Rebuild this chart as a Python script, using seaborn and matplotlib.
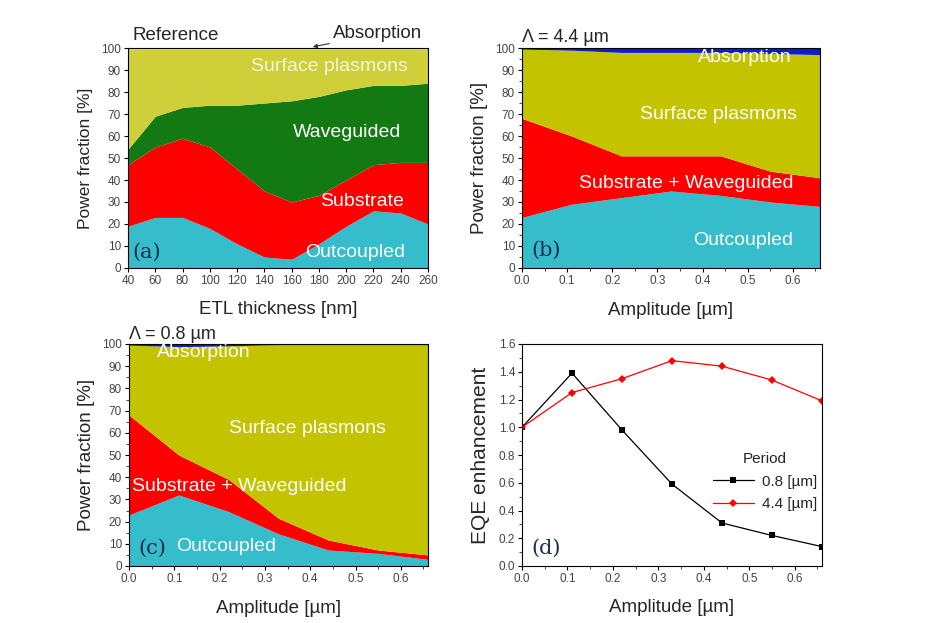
import numpy as np
import matplotlib
matplotlib.use("Agg")
import matplotlib.pyplot as plt
import seaborn as sns
import pandas as pd
from matplotlib.ticker import MultipleLocator, AutoMinorLocator

# ---------------- data ----------------
# panel (a): reference, vs ETL thickness
etl_nm = [40, 60, 80, 100, 120, 140, 160, 180, 200, 220, 240, 260]
a_outcoupled = [19, 23, 23, 18, 11, 5, 4, 11, 19, 26, 25, 20]
a_substrate = [28, 32, 36, 37, 34, 30, 26, 22, 21, 21, 23, 28]
a_waveguided = [7, 14, 14, 19, 29, 40, 46, 45, 41, 36, 35, 36]
a_plasmons = [45.6, 30.6, 26.6, 25.6, 25.6, 24.6, 23.6, 21.6, 18.6, 16.6, 16.6, 15.6]
a_absorption = [0.4, 0.4, 0.4, 0.4, 0.4, 0.4, 0.4, 0.4, 0.4, 0.4, 0.4, 0.4]

# amplitudes for (b), (c), (d)
amplitude_um = [0.0, 0.11, 0.22, 0.33, 0.44, 0.55, 0.66]

# panel (b): period 4.4 um
b_outcoupled = [23, 29, 32, 35, 33, 30, 28]
b_subwave = [45, 31, 19, 16, 18, 14, 13]
b_plasmons = [31.5, 39, 47, 47, 47, 53.5, 56]
b_absorption = [0.5, 1.0, 2.0, 2.0, 2.0, 2.5, 3.0]

# panel (c): period 0.8 um
c_outcoupled = [23, 32, 24.5, 14.5, 7.2, 5.7, 3]
c_subwave = [45, 18, 14.5, 7, 4.5, 1.5, 2]
c_plasmons = [31.5, 48.8, 60.2, 78.2, 88, 92.5, 94.7]
c_absorption = [0.5, 1.2, 0.8, 0.3, 0.3, 0.3, 0.3]

# panel (d): EQE enhancement
eqe_08 = [1.0, 1.39, 0.98, 0.59, 0.31, 0.22, 0.14]
eqe_44 = [1.0, 1.25, 1.35, 1.48, 1.44, 1.34, 1.19]
period_labels = ["0.8 [\u00b5m]", "4.4 [\u00b5m]"]

# ---------------- style ----------------
sns.set_theme(style="ticks")
plt.rcParams["font.family"] = ["Liberation Sans", "DejaVu Sans"]

C_OUT = "#35BDCB"
C_SUB = "#FF0000"
C_WG = "#137A13"
C_SP_A = "#CFCF3A"
C_SP = "#C3C300"
C_ABS = "#0A1ECC"

fig = plt.figure(figsize=(9.38, 6.23), dpi=100)
W, H = 938, 623

def add_ax(l, t, r, b):
    return fig.add_axes([l / W, 1 - b / H, (r - l) / W, (b - t) / H])

ax_a = add_ax(128, 48, 428, 268)
ax_b = add_ax(522, 48, 820, 268)
ax_c = add_ax(129, 344, 428, 566)
ax_d = add_ax(522, 344, 822, 566)

def style_axes(ax):
    for s in ax.spines.values():
        s.set_linewidth(0.8)
        s.set_color("black")
    ax.tick_params(axis="both", which="major", direction="out", length=3, width=0.8,
                   labelsize=8.5, colors="black", labelcolor="#444444", pad=2)
    ax.tick_params(axis="both", which="minor", direction="out", length=2, width=0.6)

REG = 14
label_kw = dict(color="white", fontsize=REG, ha="center", va="center")
XL = 13.5
YL = 13.5
panel_kw = dict(fontsize=15, family="DejaVu Serif", color="#1F2F4F", ha="left", va="center")

# panel (a)
ax_a.stackplot(etl_nm, a_outcoupled, a_substrate, a_waveguided, a_plasmons, a_absorption,
               colors=[C_OUT, C_SUB, C_WG, C_SP_A, C_ABS], linewidth=0)
ax_a.set_xlim(40, 260)
ax_a.set_ylim(0, 100)
ax_a.xaxis.set_major_locator(MultipleLocator(20))
ax_a.yaxis.set_major_locator(MultipleLocator(10))
ax_a.set_xlabel("ETL thickness [nm]", fontsize=XL, labelpad=10)
ax_a.set_ylabel("Power fraction [%]", fontsize=12.5, labelpad=6)
style_axes(ax_a)
ax_a.text(0.015, 1.055, "Reference", transform=ax_a.transAxes, fontsize=13.5, ha="left", va="center")
ax_a.annotate("Absorption", xy=(175.5, 100.5), xytext=(190, 106.5), textcoords="data",
              fontsize=13.5, ha="left", va="center", annotation_clip=False,
              arrowprops=dict(arrowstyle="-|>", color="#333333", lw=0.8, shrinkA=0, shrinkB=0,
                              mutation_scale=6))
ax_a.text(188, 91.4, "Surface plasmons", color="#F4F4D8", fontsize=REG, ha="center", va="center")
ax_a.text(201, 61.4, "Waveguided", **label_kw)
ax_a.text(211.5, 30, "Substrate", **label_kw)
ax_a.text(206.5, 7, "Outcoupled", **label_kw)
ax_a.text(0.015, 0.07, "(a)", transform=ax_a.transAxes, **panel_kw)

# panel (b)
ax_b.stackplot(amplitude_um, b_outcoupled, b_subwave, b_plasmons, b_absorption,
               colors=[C_OUT, C_SUB, C_SP, C_ABS], linewidth=0)
ax_b.set_xlim(0, 0.66)
ax_b.set_ylim(0, 100)
ax_b.xaxis.set_major_locator(MultipleLocator(0.1))
ax_b.xaxis.set_minor_locator(AutoMinorLocator(2))
ax_b.yaxis.set_major_locator(MultipleLocator(10))
ax_b.yaxis.set_minor_locator(AutoMinorLocator(2))
ax_b.set_xlabel("Amplitude [\u00b5m]", fontsize=XL, labelpad=11)
ax_b.set_ylabel("Power fraction [%]", fontsize=YL, labelpad=5)
style_axes(ax_b)
ax_b.text(0.0, 1.05, "\u039b = 4.4 \u00b5m", transform=ax_b.transAxes, fontsize=13, ha="left", va="center")
ax_b.text(0.494, 95.9, "Absorption", **label_kw)
ax_b.text(0.434, 70, "Surface plasmons", **label_kw)
ax_b.text(0.363, 38.6, "Substrate + Waveguided", **label_kw)
ax_b.text(0.49, 12.7, "Outcoupled", **label_kw)
ax_b.text(0.03, 0.08, "(b)", transform=ax_b.transAxes, **panel_kw)

# panel (c)
ax_c.stackplot(amplitude_um, c_outcoupled, c_subwave, c_plasmons, c_absorption,
               colors=[C_OUT, C_SUB, C_SP, C_ABS], linewidth=0)
ax_c.set_xlim(0, 0.66)
ax_c.set_ylim(0, 100)
ax_c.xaxis.set_major_locator(MultipleLocator(0.1))
ax_c.xaxis.set_minor_locator(AutoMinorLocator(2))
ax_c.yaxis.set_major_locator(MultipleLocator(10))
ax_c.yaxis.set_minor_locator(AutoMinorLocator(2))
ax_c.set_xlabel("Amplitude [\u00b5m]", fontsize=XL, labelpad=11)
ax_c.set_ylabel("Power fraction [%]", fontsize=YL, labelpad=5)
style_axes(ax_c)
ax_c.text(0.0, 1.045, "\u039b = 0.8 \u00b5m", transform=ax_c.transAxes, fontsize=13, ha="left", va="center")
ax_c.text(0.166, 96, "Absorption", **label_kw)
ax_c.text(0.393, 62, "Surface plasmons", **label_kw)
ax_c.text(0.243, 35.6, "Substrate + Waveguided", **label_kw)
ax_c.text(0.214, 8.6, "Outcoupled", **label_kw)
ax_c.text(0.03, 0.08, "(c)", transform=ax_c.transAxes, **panel_kw)

# panel (d)
df = pd.DataFrame({
    "Amplitude": amplitude_um * 2,
    "EQE": eqe_08 + eqe_44,
    "Period": [period_labels[0]] * len(eqe_08) + [period_labels[1]] * len(eqe_44),
})
sns.lineplot(data=df, x="Amplitude", y="EQE", hue="Period", style="Period",
             palette={period_labels[0]: "black", period_labels[1]: "red"},
             markers={period_labels[0]: "s", period_labels[1]: "D"},
             dashes=False, markersize=4, linewidth=0.9, markeredgewidth=0, ax=ax_d)
ax_d.set_xlim(0, 0.66)
ax_d.set_ylim(0, 1.6)
ax_d.xaxis.set_major_locator(MultipleLocator(0.1))
ax_d.xaxis.set_minor_locator(AutoMinorLocator(2))
ax_d.yaxis.set_major_locator(MultipleLocator(0.2))
ax_d.yaxis.set_minor_locator(AutoMinorLocator(2))
ax_d.set_xlabel("Amplitude [\u00b5m]", fontsize=XL, labelpad=10)
ax_d.set_ylabel("EQE enhancement", fontsize=15, labelpad=6)
style_axes(ax_d)
leg = ax_d.legend(title="Period", frameon=False, loc="upper left",
                  bbox_to_anchor=(0.6, 0.56), fontsize=11, title_fontsize=11,
                  handlelength=2.7, handletextpad=0.5, borderpad=0.2, labelspacing=0.55)
ax_d.text(0.03, 0.08, "(d)", transform=ax_d.transAxes, **panel_kw)

fig.savefig("out.png", dpi=100, facecolor="white")
